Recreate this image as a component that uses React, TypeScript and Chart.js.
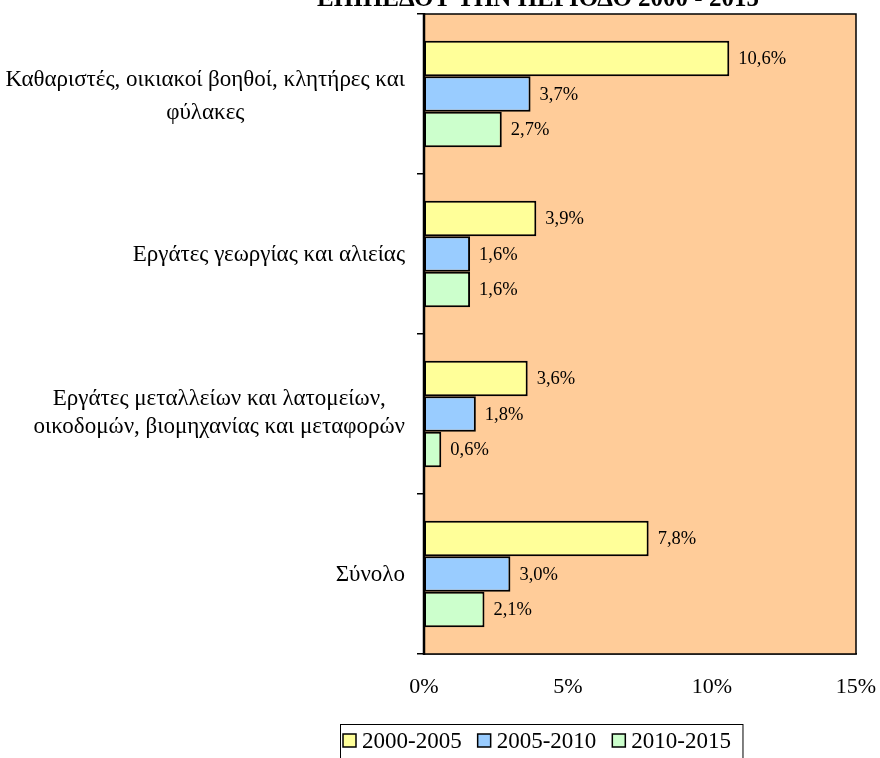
import React, { useEffect, useRef } from "react";
import { Chart, registerables } from "chart.js";

Chart.register(...registerables);

const categories: string[][] = [
  ["Καθαριστές, οικιακοί βοηθοί, κλητήρες και", "φύλακες"],
  ["Εργάτες γεωργίας και αλιείας"],
  ["Εργάτες μεταλλείων και λατομείων,", "οικοδομών, βιομηχανίας και μεταφορών"],
  ["Σύνολο"],
];
const seriesNames = ["2000-2005", "2005-2010", "2010-2015"];
const values2000_2005 = [10.6, 3.9, 3.6, 7.8];
const values2005_2010 = [3.7, 1.6, 1.8, 3.0];
const values2010_2015 = [2.7, 1.6, 0.6, 2.1];
const xTicks = [0, 5, 10, 15];
const titleText = "ΕΠΙΠΕΔΟΥ ΤΗΝ ΠΕΡΙΟΔΟ 2000 - 2015";

const colors = ["#FFFF99", "#99CCFF", "#CCFFCC"];
const plotBg = "#FFCC99";
const serif = "'Liberation Serif', 'Times New Roman', serif";

// vertical offsets (px) of each label line from its category centre
const lineOffsets = [[-15, 18], [0], [-16, 12], [0]];

const fmt = (v: number) => v.toFixed(1).replace(".", ",") + "%";

export default function App() {
  const ref = useRef<HTMLCanvasElement | null>(null);

  useEffect(() => {
    const canvas = ref.current;
    if (!canvas) return;

    const decor = {
      id: "decor",
      beforeDatasetsDraw(chart: any) {
        const { ctx, chartArea: a } = chart;
        ctx.save();
        ctx.fillStyle = plotBg;
        ctx.fillRect(a.left, a.top, a.right - a.left, a.bottom - a.top);
        ctx.restore();
      },
      afterDraw(chart: any) {
        const { ctx, chartArea: a } = chart;
        const yScale = chart.scales.y;
        ctx.save();
        // plot frame
        ctx.strokeStyle = "#000";
        ctx.lineWidth = 1.5;
        ctx.strokeRect(a.left, a.top, a.right - a.left, a.bottom - a.top);
        ctx.lineWidth = 2.5;
        ctx.beginPath();
        ctx.moveTo(a.left, a.top - 1);
        ctx.lineTo(a.left, a.bottom + 1);
        ctx.stroke();

        // value labels beside each bar
        ctx.fillStyle = "#000";
        ctx.font = `18.5px ${serif}`;
        ctx.textAlign = "left";
        ctx.textBaseline = "middle";
        chart.data.datasets.forEach((ds: any, di: number) => {
          const meta = chart.getDatasetMeta(di);
          meta.data.forEach((bar: any, i: number) => {
            ctx.fillText(fmt(ds.data[i]), bar.x + 9, bar.y + 1);
          });
        });

        // category labels: block right-aligned, lines centred in block
        ctx.font = `23px ${serif}`;
        ctx.textAlign = "center";
        const right = 405;
        categories.forEach((lines, i) => {
          const cy = yScale.getPixelForValue(i);
          const w = Math.max(...lines.map((l) => ctx.measureText(l).width));
          const cx = right - w / 2;
          lines.forEach((l, k) => ctx.fillText(l, cx, cy + lineOffsets[i][k] + 1));
        });

        // title (only its lower edge falls inside the canvas)
        ctx.font = `bold 25px ${serif}`;
        ctx.textAlign = "center";
        ctx.textBaseline = "alphabetic";
        ctx.fillText(titleText, 538, 6);

        // legend
        const lx = 340.5;
        const ly = 724.5;
        ctx.font = `23px ${serif}`;
        ctx.textBaseline = "middle";
        ctx.textAlign = "left";
        let x = 343;
        const items = chart.data.datasets.map((ds: any) => ({
          label: ds.label,
          color: ds.backgroundColor,
        }));
        items.forEach((it: any) => {
          ctx.fillStyle = it.color;
          ctx.fillRect(x, 734, 13, 13);
          ctx.strokeStyle = "#000";
          ctx.lineWidth = 1.5;
          ctx.strokeRect(x, 734, 13, 13);
          ctx.fillStyle = "#000";
          ctx.fillText(it.label, x + 19, 742);
          x += 19 + ctx.measureText(it.label).width + 16;
        });
        ctx.strokeStyle = "#000";
        ctx.lineWidth = 1;
        ctx.strokeRect(lx, ly, x - 16 + 12 - lx, 60);
        ctx.restore();
      },
    };

    const chart = new Chart(canvas, {
      type: "bar",
      data: {
        labels: categories.map((c) => c.join(" ")),
        datasets: [values2000_2005, values2005_2010, values2010_2015].map(
          (d, i) => ({
            label: seriesNames[i],
            data: d,
            backgroundColor: colors[i],
            borderColor: "#000",
            borderWidth: 2,
            borderSkipped: false,
            categoryPercentage: 0.665,
            barPercentage: 1.0,
          })
        ),
      },
      options: {
        indexAxis: "y",
        responsive: false,
        animation: false,
        devicePixelRatio: 1,
        layout: { padding: { top: 14, right: 24, left: 0, bottom: 0 } },
        plugins: {
          legend: { display: false },
          tooltip: { enabled: false },
          title: { display: false },
        },
        scales: {
          y: {
            type: "category",
            grid: {
              display: true,
              drawOnChartArea: false,
              drawTicks: true,
              tickLength: 7,
              color: "#000",
              lineWidth: 1.5,
              offset: true,
            },
            border: { display: true, color: "#000", width: 2 },
            ticks: { display: false },
            afterFit(scale: any) {
              scale.width = 424;
            },
          },
          x: {
            min: 0,
            max: 15,
            afterBuildTicks(scale: any) {
              scale.ticks = xTicks.map((v) => ({ value: v }));
            },
            grid: { display: false, drawTicks: false },
            border: { display: true, color: "#000", width: 1.5 },
            ticks: {
              color: "#000",
              font: { family: serif, size: 22 },
              padding: 20,
              maxRotation: 0,
              callback: (v: any) => `${v}%`,
            },
            afterFit(scale: any) {
              scale.height = 758 - 654;
              scale.paddingLeft = 0;
              scale.paddingRight = 0;
            },
          },
        },
      },
      plugins: [decor],
    });

    return () => chart.destroy();
  }, []);

  return (
    <div style={{ position: "absolute", left: 0, top: 0, width: 880, height: 758, background: "#fff" }}>
      <canvas ref={ref} width={880} height={758} />
    </div>
  );
}
